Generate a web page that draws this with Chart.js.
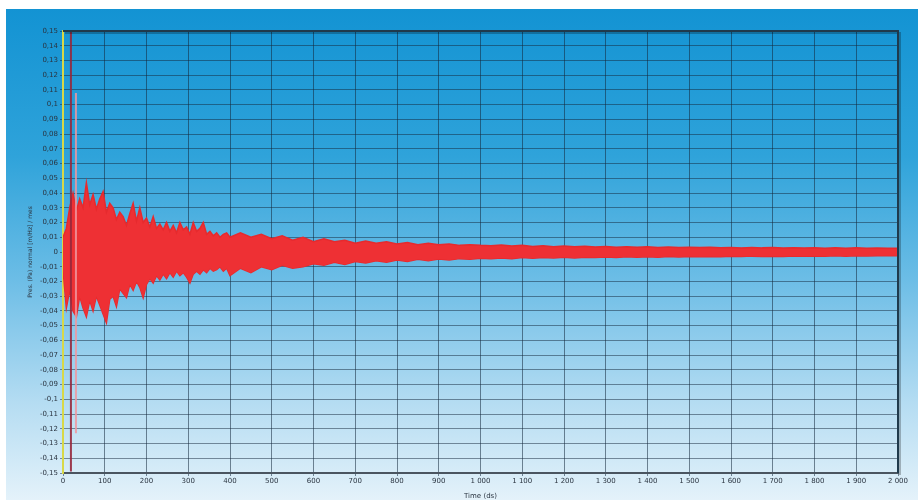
<!DOCTYPE html>
<html>
<head>
<meta charset="utf-8">
<script src="https://cdn.jsdelivr.net/npm/chart.js@4/dist/chart.umd.min.js"></script>
<style>
  html, body { margin: 0; padding: 0; background: #fff; }
  #wrap { width: 918px; height: 500px; }
</style>
</head>
<body>
<div id="wrap"><canvas id="signalChart" width="918" height="500"></canvas></div>
<script>
// time axis (ds) of the envelope points
const times = [
  0, 8, 16, 24, 32, 40, 48, 56, 64, 72, 80, 88, 96, 104, 112, 120, 128, 136, 144, 152,
  160, 168, 176, 184, 192, 200, 208, 216, 224, 232, 240, 248, 256, 264, 272, 280, 288, 296, 304, 312,
  320, 328, 336, 344, 352, 360, 368, 376, 384, 392, 400,
  425, 450, 475, 500, 525, 550, 575, 600, 625, 650, 675, 700, 725, 750, 775, 800, 825, 850, 875, 900,
  925, 950, 975, 1000, 1025, 1050, 1075, 1100, 1125, 1150, 1175, 1200, 1225, 1250, 1275, 1300, 1325, 1350, 1375, 1400,
  1425, 1450, 1475, 1500, 1525, 1550, 1575, 1600, 1625, 1650, 1675, 1700, 1725, 1750, 1775, 1800, 1825, 1850, 1875, 1900,
  1925, 1950, 1975, 2000
];

// positive peaks of the signal
const upperPeaks = [
  0.010, 0.016, 0.030, 0.040, 0.028, 0.036, 0.030, 0.047, 0.032, 0.039, 0.029, 0.036, 0.041, 0.027, 0.033, 0.030, 0.022, 0.027, 0.024, 0.018,
  0.026, 0.033, 0.021, 0.030, 0.020, 0.023, 0.017, 0.024, 0.016, 0.019, 0.015, 0.020, 0.014, 0.018, 0.013, 0.020, 0.015, 0.017, 0.012, 0.020,
  0.014, 0.016, 0.020, 0.012, 0.014, 0.011, 0.013, 0.010, 0.012, 0.013, 0.010,
  0.013, 0.010, 0.012, 0.009, 0.011, 0.008, 0.010, 0.007, 0.009, 0.007, 0.008, 0.006, 0.0075, 0.006, 0.007, 0.0055, 0.0065, 0.005, 0.006, 0.005,
  0.0055, 0.0045, 0.005, 0.0045, 0.0042, 0.0048, 0.004, 0.0045, 0.0038, 0.0043, 0.0036, 0.0041, 0.0035, 0.0039, 0.0034, 0.0038, 0.0033, 0.0036, 0.0032, 0.0035,
  0.0031, 0.0034, 0.003, 0.0033, 0.003, 0.0032, 0.0029, 0.0031, 0.0028, 0.0031, 0.0028, 0.003, 0.0027, 0.0029, 0.0027, 0.0029, 0.0026, 0.0028, 0.0026, 0.0028,
  0.0025, 0.0027, 0.0025, 0.0026
];

// negative peaks of the signal
const lowerPeaks = [
  -0.012, -0.038, -0.026, -0.040, -0.044, -0.030, -0.038, -0.044, -0.033, -0.040, -0.030, -0.036, -0.042, -0.048, -0.032, -0.030, -0.037, -0.025, -0.028, -0.031,
  -0.022, -0.026, -0.020, -0.024, -0.031, -0.022, -0.018, -0.021, -0.016, -0.019, -0.015, -0.018, -0.014, -0.017, -0.013, -0.016, -0.014, -0.017, -0.021, -0.015,
  -0.013, -0.015, -0.012, -0.014, -0.011, -0.013, -0.012, -0.010, -0.013, -0.011, -0.016,
  -0.011, -0.014, -0.010, -0.012, -0.009, -0.011, -0.010, -0.008, -0.009, -0.007, -0.0085, -0.0065, -0.0075, -0.006, -0.007, -0.0055, -0.0065, -0.005, -0.006, -0.0048,
  -0.0055, -0.0045, -0.005, -0.0042, -0.0045, -0.004, -0.0046, -0.0038, -0.0043, -0.0037, -0.0041, -0.0036, -0.004, -0.0035, -0.0038, -0.0034, -0.0037, -0.0033, -0.0036, -0.0032,
  -0.0035, -0.0031, -0.0034, -0.003, -0.0033, -0.003, -0.0032, -0.0029, -0.0031, -0.0028, -0.003, -0.0028, -0.003, -0.0027, -0.0029, -0.0027, -0.0028, -0.0026, -0.0028, -0.0026,
  -0.0027, -0.0025, -0.0026, -0.0025
];

// the two impulse spikes at the start
const spikeMainTime = 19;
const spikeMainValues = [0.150, -0.149];
const spikeSecondTime = 31;
const spikeSecondValues = [0.108, -0.123];

const xTitle = 'Time (ds)';
const yTitle = 'Pres. (Pa) normal [m/Hz] / mes';

function formatY(value) {
    const v = Math.round(value * 100) / 100;
    return String(v).replace('.', ',');
}

function formatX(value) {
    const s = String(Math.round(value));
    return s.length > 3 ? s.slice(0, s.length - 3) + ' ' + s.slice(-3) : s;
}

const backgroundPlugin = {
    id: 'bgGradient',
    beforeDraw: (chart) => {
        const { ctx, width, height } = chart;
        ctx.save();
        ctx.fillStyle = '#ffffff';
        ctx.fillRect(0, 0, width, height);
        const g = ctx.createLinearGradient(0, 9, 0, height);
        g.addColorStop(0, '#1393d3');
        g.addColorStop(0.3, '#2fa3da');
        g.addColorStop(0.55, '#6cbde6');
        g.addColorStop(0.8, '#b4dcf2');
        g.addColorStop(1, '#e4f2fa');
        ctx.fillStyle = g;
        ctx.fillRect(6, 9, width - 6, height - 9);
        ctx.restore();
    }
};

const framePlugin = {
    id: 'plotFrame',
    afterDraw: (chart) => {
        const { ctx, chartArea } = chart;
        ctx.save();
        ctx.strokeStyle = 'rgba(0, 0, 0, 0.25)';
        ctx.lineWidth = 2;
        ctx.beginPath();
        ctx.moveTo(chartArea.left + 2, chartArea.top + 2);
        ctx.lineTo(chartArea.right + 2, chartArea.top + 2);
        ctx.lineTo(chartArea.right + 2, chartArea.bottom + 2);
        ctx.stroke();
        ctx.strokeStyle = '#1f3a4c';
        ctx.lineWidth = 2;
        ctx.beginPath();
        ctx.moveTo(chartArea.left, chartArea.top);
        ctx.lineTo(chartArea.right, chartArea.top);
        ctx.lineTo(chartArea.right, chartArea.bottom);
        ctx.stroke();
        ctx.restore();
    }
};

const ctx = document.getElementById('signalChart').getContext('2d');

new Chart(ctx, {
    type: 'line',
    data: {
        datasets: [{
            label: 'upper',
            data: times.map((t, i) => ({ x: t, y: upperPeaks[i] })),
            borderColor: '#e62a2e',
            backgroundColor: '#ee3034',
            borderWidth: 1.5,
            pointRadius: 0,
            fill: '+1',
            tension: 0,
            order: 3
        }, {
            label: 'lower',
            data: times.map((t, i) => ({ x: t, y: lowerPeaks[i] })),
            borderColor: '#e62a2e',
            borderWidth: 1.5,
            pointRadius: 0,
            fill: false,
            tension: 0,
            order: 3
        }, {
            label: 'spike 2',
            data: spikeSecondValues.map(v => ({ x: spikeSecondTime, y: v })),
            borderColor: 'rgba(240, 150, 160, 0.85)',
            borderWidth: 2,
            pointRadius: 0,
            fill: false,
            order: 2
        }, {
            label: 'spike 1',
            data: spikeMainValues.map(v => ({ x: spikeMainTime, y: v })),
            borderColor: 'rgba(150, 40, 60, 0.9)',
            borderWidth: 2,
            pointRadius: 0,
            fill: false,
            order: 1
        }]
    },
    options: {
        responsive: false,
        animation: false,
        layout: {
            padding: { left: 25, top: 31, right: 20, bottom: 0 }
        },
        scales: {
            x: {
                type: 'linear',
                min: 0,
                max: 2000,
                afterFit: (scale) => { scale.height = 27; },
                grid: {
                    color: 'rgba(20, 40, 60, 0.55)',
                    lineWidth: 1,
                    tickLength: 3
                },
                border: { color: '#4a5560', width: 2 },
                ticks: {
                    stepSize: 100,
                    color: '#2a3440',
                    font: { family: 'DejaVu Sans', size: 7 },
                    padding: 1,
                    maxRotation: 0,
                    autoSkip: false,
                    callback: (value) => formatX(value)
                },
                title: {
                    display: true,
                    text: xTitle,
                    color: '#2a3440',
                    font: { family: 'DejaVu Sans', size: 7 },
                    padding: { top: 0, bottom: 0 }
                }
            },
            y: {
                min: -0.15,
                max: 0.15,
                afterFit: (scale) => { scale.width = 38; },
                grid: {
                    color: 'rgba(20, 40, 60, 0.5)',
                    lineWidth: 1,
                    tickLength: 3
                },
                border: { color: '#d8d848', width: 2 },
                ticks: {
                    stepSize: 0.01,
                    color: '#2a3440',
                    font: { family: 'DejaVu Sans', size: 7 },
                    padding: 2,
                    autoSkip: false,
                    callback: (value) => formatY(value)
                },
                title: {
                    display: true,
                    text: yTitle,
                    color: '#2a3440',
                    font: { family: 'DejaVu Sans', size: 6 },
                    padding: { top: 2, bottom: 0 }
                }
            }
        },
        plugins: {
            legend: { display: false },
            tooltip: { enabled: false }
        }
    },
    plugins: [backgroundPlugin, framePlugin]
});
</script>
</body>
</html>
